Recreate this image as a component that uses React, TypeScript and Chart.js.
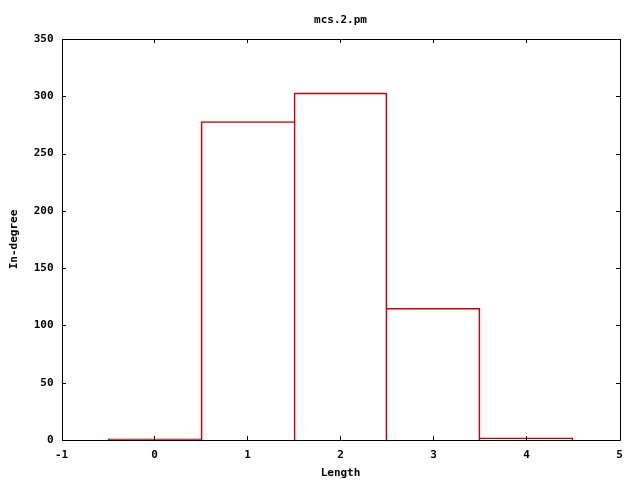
import React, { useEffect, useRef } from "react";
import { Chart, registerables } from "chart.js";

Chart.register(...registerables);

const categories = [0, 1, 2, 3, 4];
const inDegree = [1, 278, 303, 115, 2];
const xTicks = [-1, 0, 1, 2, 3, 4, 5];
const yTicks = [0, 50, 100, 150, 200, 250, 300, 350];
const titleText = "mcs.2.pm";
const xTitle = "Length";
const yTitle = "In-degree";

const FONT = "'DejaVu Sans Mono', monospace";
const RED = "#cc0000";

// each shared edge between neighbouring boxes is drawn once, by the taller box
const borderFor = (i: number) => {
  const prev = i > 0 ? inDegree[i - 1] : -1;
  const next = i < inDegree.length - 1 ? inDegree[i + 1] : -1;
  return {
    top: 1,
    bottom: 0,
    left: prev <= inDegree[i] ? 1 : 0,
    right: next < inDegree[i] ? 1 : 0,
  };
};

const frame = {
  id: "frame",
  afterDraw(chart: any) {
    const { ctx, chartArea } = chart;
    const { left, right, top, bottom } = chartArea;
    const xs = chart.scales.x;
    const ys = chart.scales.y;
    const L = 4;
    const x0 = Math.round(left);
    const x1 = Math.round(right);
    const y0 = Math.round(top);
    const y1 = Math.round(bottom);
    ctx.save();
    ctx.strokeStyle = "#000";
    ctx.lineWidth = 1;
    ctx.beginPath();
    for (const v of xTicks) {
      const px = Math.floor(xs.getPixelForValue(v)) + 0.5;
      const p = v === xTicks[0] ? x0 + 0.5 : v === xTicks[xTicks.length - 1] ? x1 + 0.5 : px;
      ctx.moveTo(p, y1);
      ctx.lineTo(p, y1 - L);
      ctx.moveTo(p, y0);
      ctx.lineTo(p, y0 + L);
    }
    for (const v of yTicks) {
      const py = Math.round(ys.getPixelForValue(v)) + 0.5;
      ctx.moveTo(x0, py);
      ctx.lineTo(x0 + L, py);
      ctx.moveTo(x1, py);
      ctx.lineTo(x1 - L, py);
    }
    ctx.stroke();
    ctx.beginPath();
    ctx.rect(x0 + 0.5, y0 + 0.5, x1 - x0, y1 - y0);
    ctx.stroke();
    ctx.fillStyle = "#000";
    ctx.font = `bold 11px ${FONT}`;
    ctx.textAlign = "center";
    ctx.textBaseline = "middle";
    ctx.fillText(titleText, (left + right) / 2, 20);
    ctx.restore();
  },
};

export default function App() {
  const ref = useRef<HTMLCanvasElement>(null);
  useEffect(() => {
    if (!ref.current) return;
    const chart = new Chart(ref.current, {
      type: "bar",
      data: {
        datasets: [
          {
            data: categories.map((c, i) => ({ x: c, y: inDegree[i] })),
            backgroundColor: "rgba(255,255,255,0)",
            borderColor: RED,
            borderWidth: (ctx: any) => borderFor(ctx.dataIndex),
            borderSkipped: false,
            barPercentage: 1,
            categoryPercentage: 1,
          },
        ],
      },
      options: {
        animation: false,
        responsive: false,
        layout: { padding: { top: 39, right: 20.5, left: 0, bottom: 0 } },
        plugins: { legend: { display: false }, tooltip: { enabled: false }, title: { display: false } },
        scales: {
          x: {
            type: "linear",
            min: -1,
            max: 5,
            offset: false,
            grid: { display: false, drawTicks: false },
            border: { display: false },
            afterBuildTicks: (s: any) => {
              s.ticks = xTicks.map((v) => ({ value: v }));
            },
            afterFit: (s: any) => {
              s.height = 40;
            },
            ticks: {
              padding: 9,
              color: "#000",
              font: { family: FONT, size: 11, weight: "bold" },
              callback: (v: any) => String(v),
            },
            title: {
              display: true,
              text: xTitle,
              color: "#000",
              font: { family: FONT, size: 11, weight: "bold" },
              padding: { top: 0, bottom: 0 },
            },
          },
          y: {
            type: "linear",
            min: 0,
            max: 350,
            grid: { display: false, drawTicks: false },
            border: { display: false },
            afterBuildTicks: (s: any) => {
              s.ticks = yTicks.map((v) => ({ value: v }));
            },
            afterFit: (s: any) => {
              s.width = 61.5;
            },
            ticks: {
              padding: 8,
              color: "#000",
              font: { family: FONT, size: 11, weight: "bold" },
              callback: (v: any) => String(v),
            },
            title: {
              display: true,
              text: yTitle,
              color: "#000",
              font: { family: FONT, size: 11, weight: "bold" },
              padding: { top: 8, bottom: 0 },
            },
          },
        },
      } as any,
      plugins: [frame],
    });
    return () => chart.destroy();
  }, []);
  return (
    <div style={{ position: "absolute", left: 0, top: 0, width: 640, height: 480, background: "#fff" }}>
      <canvas ref={ref} width={640} height={480} style={{ display: "block" }} />
    </div>
  );
}
